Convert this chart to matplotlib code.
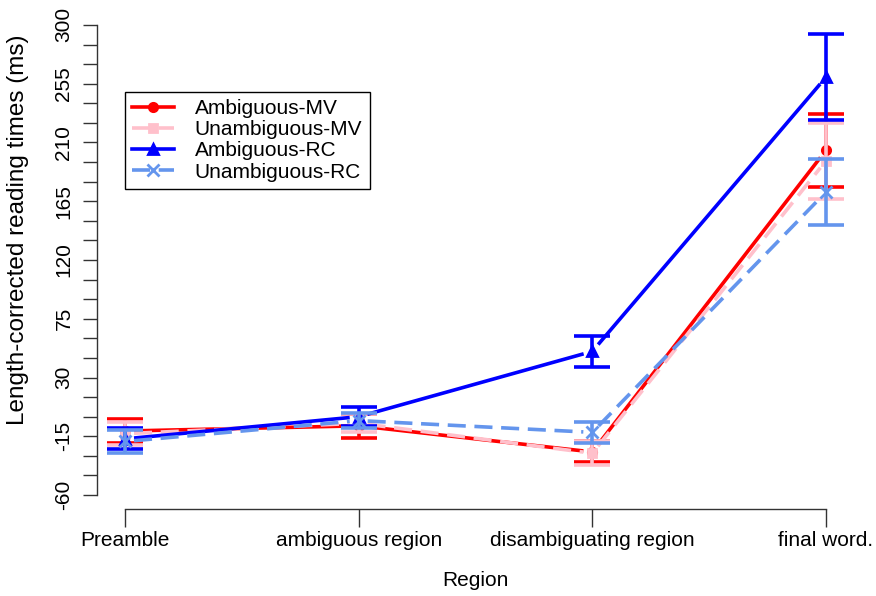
import numpy as np
import matplotlib
matplotlib.use("Agg")
import matplotlib.pyplot as plt
from matplotlib.lines import Line2D

plt.rcParams['font.family'] = ['Liberation Sans', 'DejaVu Sans']

# Données
regions = ["Preamble", "ambiguous region", "disambiguating region", "final word."]
labels = ["Ambiguous-MV", "Unambiguous-MV", "Ambiguous-RC", "Unambiguous-RC"]
amb_mv = [-11, -7, -27, 204]
amb_mv_se = [9.5, 9, 8, 28]
unamb_mv = [-13, -5, -28, 196]
unamb_mv_se = [9, 7, 9, 29]
amb_rc = [-17, 0, 50, 260]
amb_rc_se = [8, 7.5, 12, 33]
unamb_rc = [-19, -3, -12, 172]
unamb_rc_se = [9, 6, 8, 25]
y_ticks = list(range(-60, 301, 45))

series = [
    (amb_mv, amb_mv_se, "#ff0000", "-", "o", 6),
    (unamb_mv, unamb_mv_se, "#ffc0cb", "--", "s", 6),
    (amb_rc, amb_rc_se, "#0000ff", "-", "^", 7),
    (unamb_rc, unamb_rc_se, "#6495ed", "--", "x", 8),
]

W, H = 876, 596
fig = plt.figure(figsize=(W / 100, H / 100), dpi=100)
ax = fig.add_axes([97 / W, (H - 509) / H, (854 - 97) / W, (509 - 6) / H])
ax.set_xlim(0.88, 4.12)
ax.set_ylim(-70.7, 314.5)

x = np.arange(1, len(regions) + 1)
gap = 9  # espace autour des points (type="b" en R)
lw = 2.6
dash = (5.0, 2.4)


def draw_series(y, se, color, ls, marker, ms):
    pts = ax.transData.transform(np.column_stack([x, y]))
    inv = ax.transData.inverted()
    for i in range(len(pts) - 1):
        p0, p1 = pts[i], pts[i + 1]
        d = p1 - p0
        u = d / np.hypot(*d)
        seg = inv.transform([p0 + u * gap, p1 - u * gap])
        line, = ax.plot(seg[:, 0], seg[:, 1], color=color, lw=lw, solid_capstyle='butt',
                        dash_capstyle='butt')
        if ls == "--":
            line.set_dashes(dash)
    ax.plot(x, y, linestyle='none', marker=marker, color=color, ms=ms, mew=2)
    ax.errorbar(x, y, yerr=se, fmt='none', ecolor=color, elinewidth=lw,
                capsize=13, capthick=lw)


for y, se, color, ls, marker, ms in series:
    draw_series(y, se, color, ls, marker, ms)

# Axes façon R
for s in ['top', 'right']:
    ax.spines[s].set_visible(False)
ax.spines['left'].set_bounds(-60, 300)
ax.spines['bottom'].set_bounds(1, 4)
for s in ['left', 'bottom']:
    ax.spines[s].set_linewidth(1.0)
    ax.spines[s].set_color('#333333')

ax.set_yticks(y_ticks)
ax.set_yticklabels([str(v) for v in y_ticks], rotation=90, va='center', fontsize=15)
ax.set_yticks(list(range(-60, 301, 15)), minor=True)
ax.tick_params(axis='y', which='both', length=10, width=1.0, pad=7, color='#333333')
ax.set_xticks(x)
ax.set_xticklabels(regions, fontsize=15)
ax.tick_params(axis='x', length=13, width=1.0, pad=3, color='#333333')

ax.set_xlabel("Region", fontsize=15)
ax.xaxis.set_label_coords(0.5, -(580 - 509) / 503)
ax.xaxis.label.set_va('center')
ax.set_ylabel("Length-corrected reading times (ms)", fontsize=17.5)
ax.yaxis.set_label_coords(-(97 - 18) / 757, (509 - 230) / 503)
ax.yaxis.label.set_va('center')

# Légende
handles = []
for y, se, color, ls, marker, ms in series:
    h = Line2D([], [], color=color, lw=lw, marker=marker, ms=ms, mew=2)
    if ls == "--":
        h.set_dashes(dash)
    handles.append(h)
leg = ax.legend(handles, labels, loc='upper left', bbox_to_anchor=(125 / W, 1 - 92 / H),
                bbox_transform=fig.transFigure, borderaxespad=0, fancybox=False,
                edgecolor='black', framealpha=1, fontsize=15, labelspacing=0.1,
                handlelength=2.0, handletextpad=1.0, borderpad=0.35)
leg.get_frame().set_linewidth(1.0)

fig.savefig("out.png", dpi=100)
